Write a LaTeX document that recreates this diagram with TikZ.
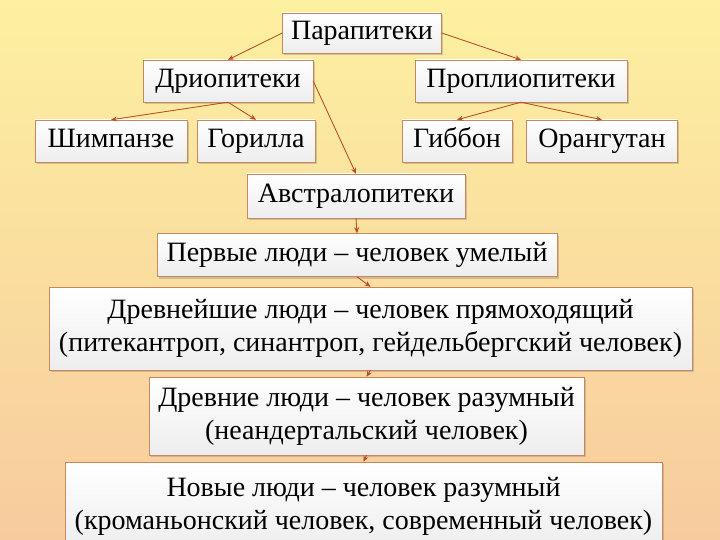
\documentclass[tikz,border=0pt]{standalone}
\usepackage{fontspec}
\setmainfont{Liberation Serif}
\usepackage{xcolor}
\usetikzlibrary{shadows,arrows.meta}

\definecolor{bgtop}{RGB}{253,240,160}
\definecolor{bgmid}{RGB}{251,228,168}
\definecolor{bgbot}{RGB}{247,203,158}
\definecolor{boxline}{RGB}{200,135,95}
\definecolor{arrowred}{RGB}{185,75,30}

\tikzset{
  stage/.style={draw=boxline, thin, top color=white, bottom color=gray!14,
    drop shadow={opacity=0.35, shadow xshift=1.5pt, shadow yshift=-2pt},
    font=\fontsize{28}{33}\selectfont, inner sep=0pt, align=center},
  oneline/.style={stage, text height=19pt, text depth=6pt},
  link/.style={-{Stealth[length=6pt, width=5pt]}, draw=arrowred, fill=arrowred, line width=0.8pt}
}

\begin{document}
\begin{tikzpicture}[x=1pt, y=-1pt]
    \useasboundingbox (0,0) rectangle (720,540);
    \clip (0,0) rectangle (720,540);
    % background
    \shade[top color=bgtop, middle color=bgmid, bottom color=bgbot] (0,0) rectangle (720,540);

    % apes
    \node[oneline, minimum width=159, minimum height=40] (para) at (362,33) {Парапитеки};
    \node[oneline, minimum width=170, minimum height=42] (drio) at (228,81) {Дриопитеки};
    \node[oneline, minimum width=212, minimum height=42] (propl) at (521,81) {Проплиопитеки};
    \node[oneline, minimum width=152, minimum height=42] (chimp) at (111,141) {Шимпанзе};
    \node[oneline, minimum width=118, minimum height=42] (gorilla) at (256,141) {Горилла};
    \node[oneline, minimum width=110, minimum height=42] (gibbon) at (457,141) {Гиббон};
    \node[oneline, minimum width=151, minimum height=42] (orang) at (602,141) {Орангутан};
    % people
    \node[oneline, minimum width=218, minimum height=44] (austr) at (356,196) {Австралопитеки};
    \node[oneline, minimum width=400, minimum height=43] (first) at (357,255) {Первые люди -- человек умелый};
    \node[stage, minimum width=643, minimum height=83] (oldest) at (370.5,328.5)
        {Древнейшие люди -- человек прямоходящий\\
         (питекантроп, синантроп, гейдельбергский человек)};
    \node[stage, minimum width=435, minimum height=78] (ancient) at (366.5,416)
        {Древние люди -- человек разумный\\(неандертальский человек)};
    \node[stage, minimum width=597, minimum height=88] (new) at (363.5,506)
        {Новые люди -- человек разумный\\(кроманьонский человек, современный человек)};

    % connectors
    \draw[link] (para.west) -- (drio.north);
    \draw[link] (para.east) -- (propl.north);
    \draw[link] (drio.south) -- (chimp.north);
    \draw[link] (drio.south) -- (gorilla.north);
    \draw[link] (propl.south) -- (gibbon.north);
    \draw[link] (propl.south) -- (orang.north);
    \draw[link] (drio.east) -- (austr.north);
    \draw[link] (austr.south) -- (first.north);
    \draw[link] (first.south) -- (oldest.north);
    \draw[link] (oldest.south) -- (ancient.north);
    \draw[link] (ancient.south) -- (new.north);
\end{tikzpicture}
\end{document}
